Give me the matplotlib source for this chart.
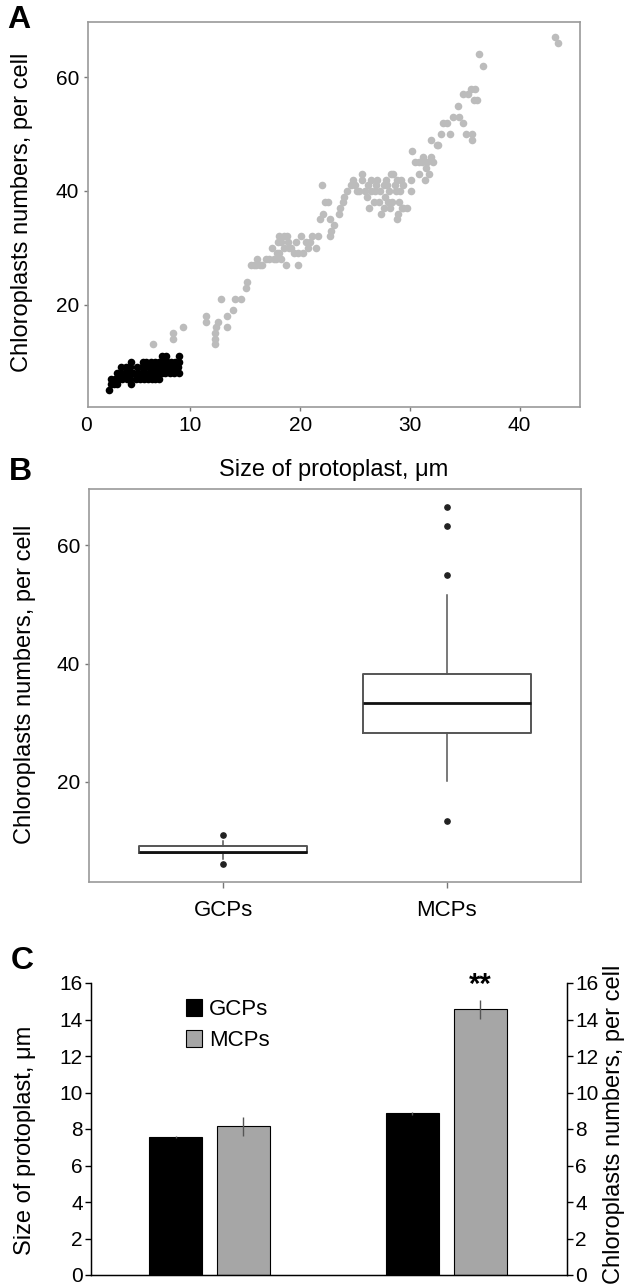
import matplotlib
matplotlib.use("Agg")
import matplotlib.pyplot as plt

plt.rcParams["font.family"] = ["Liberation Sans", "DejaVu Sans"]

# ---- panel A: protoplast size vs chloroplast number ----
gcp_size = [2.6,
            2.8, 3.0, 3.3, 4.6,
            2.8, 3.1, 3.5, 3.8, 4.2, 4.5, 5.0, 5.4, 5.8, 6.1, 6.5, 6.8, 7.1,
            3.3, 3.7, 4.0, 4.4, 4.8, 5.2, 5.6, 5.9, 6.3, 6.6, 7.0, 7.4, 7.7, 8.1, 8.5, 9.0,
            3.7, 4.1, 4.5, 5.1, 5.6, 5.9, 6.2, 6.6, 6.9, 7.2, 7.6, 8.0, 8.3, 8.6, 8.9,
            4.6, 5.7, 6.0, 6.4, 6.8, 7.1, 7.5, 7.9, 8.2, 8.6, 9.0,
            7.4, 7.8, 9.0]
gcp_count = [5,
             6, 6, 6, 6,
             7, 7, 7, 7, 7, 7, 7, 7, 7, 7, 7, 7, 7,
             8, 8, 8, 8, 8, 8, 8, 8, 8, 8, 8, 8, 8, 8, 8, 8,
             9, 9, 9, 9, 9, 9, 9, 9, 9, 9, 9, 9, 9, 9, 9,
             10, 10, 10, 10, 10, 10, 10, 10, 10, 10, 10,
             11, 11, 11]

mcp_size = [6.6, 8.4, 8.4, 9.3, 11.4, 11.4, 12.2, 12.2, 12.2, 12.3, 12.5, 12.8,
            13.3, 13.3, 13.9, 14.1, 14.6, 15.1, 15.2, 15.5, 15.8, 16.0, 16.1, 16.3,
            16.5, 16.9, 17.2, 17.4, 17.6, 17.8, 17.9, 18.0, 18.1, 18.1, 18.3, 18.3,
            18.5, 18.5, 18.7, 18.8, 18.9, 19.0, 19.2, 19.4, 19.6, 19.8, 19.8, 20.1,
            20.3, 20.5, 20.7, 20.9, 21.1, 21.4, 21.6, 21.8, 22.0, 22.1, 22.3, 22.5,
            22.7, 22.7, 22.8, 23.1, 23.5, 23.6, 23.9, 24.0, 24.3, 24.6, 24.8, 25.0,
            25.2, 25.4, 25.6, 25.6, 25.9, 26.1, 26.2, 26.3, 26.5, 26.5, 26.7, 26.8,
            26.9, 27.0, 27.2, 27.3, 27.4, 27.6, 27.6, 27.7, 27.8, 27.9, 28.0, 28.1,
            28.2, 28.3, 28.4, 28.5, 28.6, 28.7, 28.8, 28.8, 28.9, 29.0, 29.1, 29.2,
            29.3, 29.4, 29.4, 29.7, 30.1, 30.1, 30.2, 30.5, 30.8, 30.8, 31.1, 31.2,
            31.4, 31.5, 31.6, 31.7, 31.9, 31.9, 32.1, 32.5, 32.6, 32.8, 33.0, 33.4,
            33.7, 33.9, 34.4, 34.5, 34.8, 34.8, 35.1, 35.3, 35.6, 35.7, 35.7, 35.8,
            35.9, 36.1, 36.3, 36.7, 43.2, 43.5]
mcp_count = [13, 14, 15, 16, 17, 18, 13, 14, 15, 16, 17, 21,
             16, 18, 19, 21, 21, 23, 24, 27, 27, 27, 28, 27,
             27, 28, 28, 30, 28, 28, 29, 31, 32, 29, 31, 28,
             32, 30, 27, 32, 31, 30, 30, 29, 31, 27, 29, 32,
             29, 31, 30, 31, 32, 30, 32, 35, 41, 36, 38, 38,
             32, 35, 33, 34, 36, 37, 38, 39, 40, 41, 42, 41,
             40, 40, 43, 42, 40, 39, 41, 37, 42, 40, 38, 40,
             41, 42, 38, 40, 36, 37, 41, 39, 42, 41, 38, 40,
             37, 43, 38, 43, 41, 40, 42, 35, 36, 38, 40, 42,
             37, 37, 41, 37, 42, 40, 47, 45, 43, 45, 45, 46,
             42, 44, 45, 43, 46, 49, 45, 48, 48, 50, 52, 52,
             50, 53, 55, 53, 52, 57, 50, 57, 58, 49, 50, 56,
             58, 56, 64, 62, 67, 66]

# ---- panel B: box plot summaries ----
box_labels = ["GCPs", "MCPs"]
box_whislo = [7.0, 20.2]
box_q1 = [8.0, 28.3]
box_med = [8.1, 33.3]
box_q3 = [9.1, 38.2]
box_whishi = [10.0, 51.6]
box_fliers = [[6.2, 11.0], [13.4, 54.9, 63.2, 66.5]]

# ---- panel C: means with error bars ----
bar_groups = ["size", "chloroplasts"]
gcp_means = [7.55, 8.86]
gcp_err = [0.05, 0.08]
mcp_means = [8.15, 14.56]
mcp_err = [0.52, 0.52]

W, H = 625, 1286
fig = plt.figure(figsize=(W / 100, H / 100), dpi=100)


def px_axes(left, top, right, bottom):
    return fig.add_axes([left / W, 1 - bottom / H, (right - left) / W, (bottom - top) / H])


def px_text(x, y, s, **kw):
    fig.text(x / W, 1 - y / H, s, ha="center", va="center", **kw)


frame_col = "#9a9a9a"
tick_fs = 15
label_fs = 17

# A
ax_a = px_axes(88, 22, 580, 407)
ax_a.scatter(mcp_size, mcp_count, s=30, color="#bcbcbc", linewidths=0, zorder=2)
ax_a.scatter(gcp_size, gcp_count, s=30, color="black", linewidths=0, zorder=3)
ax_a.set_xlim(0.67, 45.5)
ax_a.set_ylim(2.0, 69.7)
ax_a.set_xticks([10, 20, 30, 40])
ax_a.set_yticks([20, 40, 60])
ax_a.annotate("0", xy=(0.5, 0), xycoords=("data", "axes fraction"), xytext=(0, -6.5),
              textcoords="offset points", ha="center", va="top", fontsize=tick_fs)
for sp in ax_a.spines.values():
    sp.set_color(frame_col)
    sp.set_linewidth(1.2)
ax_a.tick_params(length=3, width=1, color="#777777", labelsize=tick_fs, pad=3.5)
px_text(22, 212, "Chloroplasts numbers, per cell", rotation=90, fontsize=label_fs)
px_text(334, 470, "Size of protoplast, μm", fontsize=label_fs)
px_text(19, 20, "A", fontsize=23, fontweight="bold")

# B
ax_b = px_axes(89, 489, 581, 882)
stats = []
for i, lab in enumerate(box_labels):
    stats.append({"label": lab, "whislo": box_whislo[i], "q1": box_q1[i], "med": box_med[i],
                  "q3": box_q3[i], "whishi": box_whishi[i], "fliers": box_fliers[i]})
ax_b.bxp(stats, positions=[1, 2], widths=0.75, showcaps=False,
         boxprops=dict(color="#555555", linewidth=1.4),
         whiskerprops=dict(color="#555555", linewidth=1.1),
         medianprops=dict(color="#111111", linewidth=2),
         flierprops=dict(marker="o", markersize=3.8, markerfacecolor="#222222",
                         markeredgecolor="#222222"))
ax_b.set_xlim(0.4, 2.6)
ax_b.set_ylim(3.1, 69.5)
ax_b.set_yticks([20, 40, 60])
for sp in ax_b.spines.values():
    sp.set_color(frame_col)
    sp.set_linewidth(1.2)
ax_b.tick_params(axis="y", length=3, width=1, color="#777777", labelsize=tick_fs, pad=3.5)
ax_b.tick_params(axis="x", length=4, width=1, color="#777777", labelsize=16, pad=9)
px_text(25, 684, "Chloroplasts numbers, per cell", rotation=90, fontsize=label_fs)
px_text(20, 472, "B", fontsize=23, fontweight="bold")

# C
ax_c = px_axes(91, 983, 567, 1275)
xpos = list(range(len(bar_groups)))
bw = 0.224
off = 0.143
ax_c.bar([x - off for x in xpos], gcp_means, bw, yerr=gcp_err, color="black",
         edgecolor="black", linewidth=0.8, label="GCPs",
         error_kw=dict(ecolor="#555555", elinewidth=1, capsize=0))
ax_c.bar([x + off for x in xpos], mcp_means, bw, yerr=mcp_err, color="#a6a6a6",
         edgecolor="black", linewidth=0.8, label="MCPs",
         error_kw=dict(ecolor="#555555", elinewidth=1, capsize=0))
ax_c.text(xpos[1] + off, 15.1, "**", ha="center", va="bottom", fontsize=21, fontweight="bold")
ax_c.set_xlim(-0.5, 1.51)
ax_c.set_ylim(0, 16)
ax_c.set_yticks(range(0, 17, 2))
ax_c.set_xticks([])
ax_c.spines["top"].set_visible(False)
for sp in ("left", "bottom", "right"):
    ax_c.spines[sp].set_linewidth(1)
ax_c.tick_params(axis="y", length=4, width=1, labelsize=tick_fs, pad=2)
ax_r = ax_c.twinx()
ax_r.set_ylim(0, 16)
ax_r.set_yticks(range(0, 17, 2))
ax_r.spines["top"].set_visible(False)
ax_r.tick_params(axis="y", length=4, width=1, labelsize=tick_fs, pad=2)
ax_c.legend(loc="upper left", bbox_to_anchor=(0.18, 0.975), frameon=False, fontsize=16,
            handlelength=0.75, handleheight=0.75, handletextpad=0.3, labelspacing=0.45,
            borderaxespad=0)
px_text(25, 1140, "Size of protoplast, μm", rotation=90, fontsize=label_fs)
px_text(614, 1124, "Chloroplasts numbers, per cell", rotation=90, fontsize=label_fs)
px_text(22, 961, "C", fontsize=23, fontweight="bold")

fig.savefig("out.png", dpi=100)
